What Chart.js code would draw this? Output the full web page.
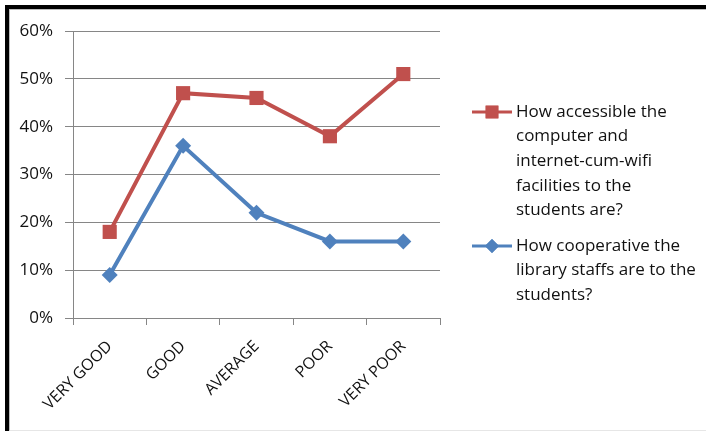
<!DOCTYPE html>
<html>
<head>
<meta charset="utf-8">
<script src="https://cdn.jsdelivr.net/npm/chart.js@4"></script>
<style>
    body { margin: 0; background: #fff; }
    #frame {
        position: absolute; left: 5px; top: 5px; width: 701px; height: 426px;
        border-left: 4px solid #000; border-top: 4px solid #000;
        box-sizing: border-box;
    }
    #frame-inner {
        position: absolute; left: 0; top: 0; right: 0; bottom: 0;
        border-left: 1px solid #bbb; border-top: 1px solid #bbb; border-bottom: 1px solid #e6e6e6;
    }
    #wrap { position: absolute; left: 0; top: 0; width: 706px; height: 432px; }
</style>
</head>
<body>
<div id="frame"><div id="frame-inner"></div></div>
<div id="wrap"><canvas id="lineChart"></canvas></div>
<script>
// Categories and series (percent)
const categories = ['VERY GOOD', 'GOOD', 'AVERAGE', 'POOR', 'VERY POOR'];
const accessibleValues = [18, 47, 46, 38, 51];
const cooperativeValues = [9, 36, 22, 16, 16];
const yTicks = [0, 10, 20, 30, 40, 50, 60];

const accessibleLabel = ['How accessible the', 'computer and', 'internet-cum-wifi', 'facilities to the', 'students are?'];
const cooperativeLabel = ['How cooperative the', 'library staffs are to the', 'students?'];

const RED = '#C0504D';
const BLUE = '#4F81BD';
const FONT = "'Open Sans', sans-serif";

/**
 * Legend on the right, with wrapped text (drawn on the canvas)
 */
const sideLegend = {
    id: 'sideLegend',
    afterDraw(chart) {
        const ctx = chart.ctx;
        const items = [
            { lines: accessibleLabel, color: RED, style: 'rect', radius: 9, y: 112 },
            { lines: cooperativeLabel, color: BLUE, style: 'rectRot', radius: 7, y: 246 }
        ];
        ctx.save();
        items.forEach(item => {
            ctx.strokeStyle = item.color;
            ctx.lineWidth = 3;
            ctx.beginPath();
            ctx.moveTo(472, item.y);
            ctx.lineTo(512, item.y);
            ctx.stroke();
            ctx.fillStyle = item.color;
            Chart.helpers.drawPoint(ctx, { pointStyle: item.style, radius: item.radius, borderWidth: 0 }, 492, item.y);
            ctx.fill();

            ctx.fillStyle = '#111';
            ctx.font = '17px ' + FONT;
            ctx.textBaseline = 'middle';
            ctx.textAlign = 'left';
            item.lines.forEach((line, i) => {
                ctx.fillText(line, 516, item.y + i * 24.6);
            });
        });
        ctx.restore();
    }
};

new Chart(document.getElementById('lineChart'), {
    type: 'line',
    data: {
        labels: categories,
        datasets: [{
            label: accessibleLabel.join(' '),
            data: accessibleValues,
            borderColor: RED,
            backgroundColor: RED,
            borderWidth: 4,
            pointStyle: 'rect',
            pointRadius: 10,
            pointBorderWidth: 0,
            tension: 0
        }, {
            label: cooperativeLabel.join(' '),
            data: cooperativeValues,
            borderColor: BLUE,
            backgroundColor: BLUE,
            borderWidth: 4,
            pointStyle: 'rectRot',
            pointRadius: 8,
            pointBorderWidth: 0,
            tension: 0
        }]
    },
    options: {
        responsive: true,
        maintainAspectRatio: false,
        animation: false,
        layout: {
            padding: { left: 0, right: 266, top: 31, bottom: 0 }
        },
        plugins: {
            legend: { display: false },
            tooltip: { enabled: false }
        },
        scales: {
            x: {
                offset: true,
                grid: {
                    offset: true,
                    drawOnChartArea: false,
                    color: '#868686',
                    tickLength: 7
                },
                border: { color: '#868686' },
                ticks: {
                    minRotation: 45,
                    maxRotation: 45,
                    padding: 12,
                    color: '#111',
                    font: { family: FONT, size: 16 }
                },
                afterFit(scale) { scale.height = 114; }
            },
            y: {
                min: 0,
                max: 60,
                afterBuildTicks(scale) {
                    scale.ticks = yTicks.map(v => ({ value: v }));
                },
                grid: {
                    color: '#868686',
                    tickLength: 8
                },
                border: { color: '#868686' },
                ticks: {
                    padding: 12,
                    color: '#111',
                    font: { family: FONT, size: 17 },
                    callback: v => v + '%'
                },
                afterFit(scale) { scale.width = 73; }
            }
        }
    },
    plugins: [sideLegend]
});
</script>
</body>
</html>
